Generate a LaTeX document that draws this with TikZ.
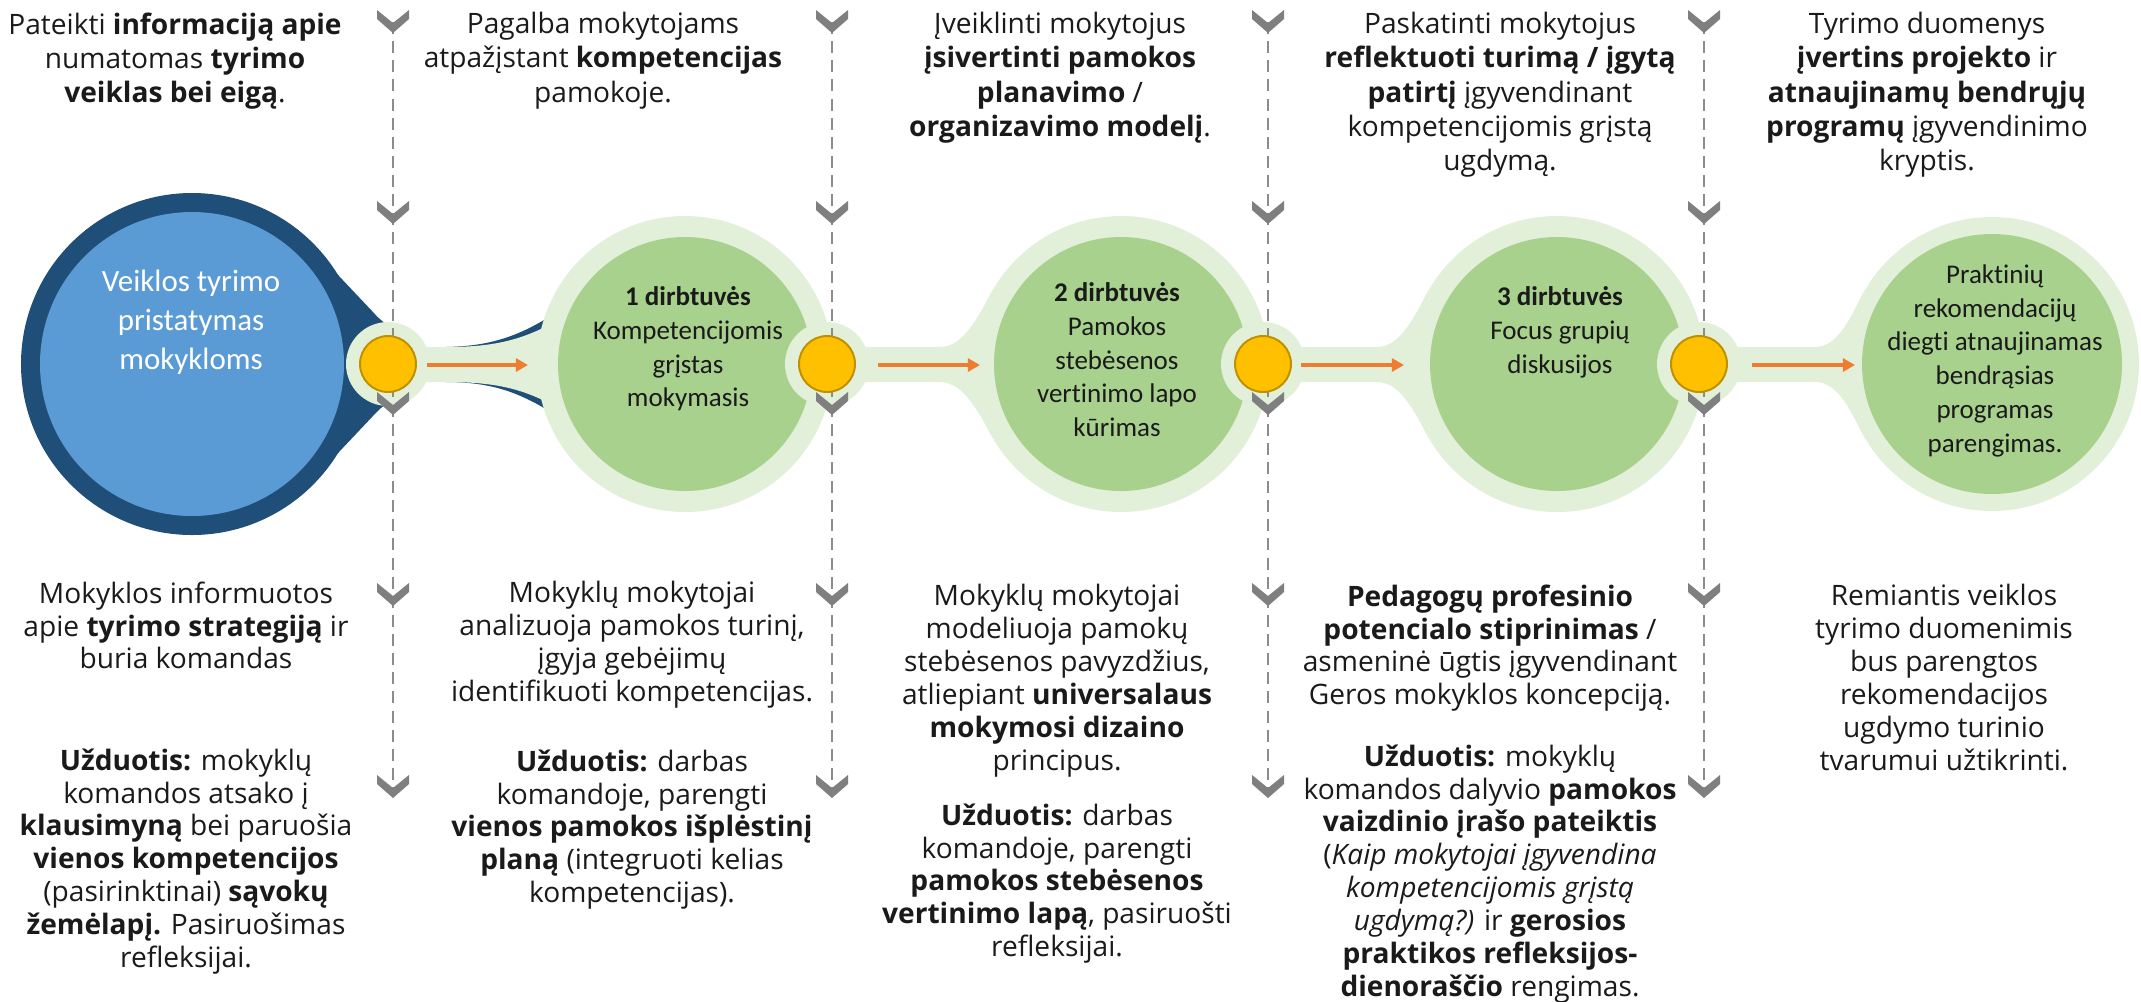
\documentclass[tikz,border=0pt]{standalone}
\usepackage{fontspec}
\setmainfont{Open Sans}
\newfontfamily\calfont{Carlito}[Ligatures=NoCommon]
\usetikzlibrary{arrows.meta}
\definecolor{dkblue}{HTML}{1F4E79}
\definecolor{ltblue}{HTML}{5B9BD5}
\definecolor{ltgreen}{HTML}{E2F0D9}
\definecolor{midgreen}{HTML}{A9D18E}
\definecolor{gold}{HTML}{FFC000}
\definecolor{goldline}{HTML}{BF9000}
\definecolor{arrowor}{HTML}{ED7D31}
\definecolor{chevgray}{HTML}{7F7F7F}
\definecolor{dashgray}{HTML}{8C8C8C}
\definecolor{txt}{HTML}{1A1A1A}
\newcommand{\chevr}[2]{\fill[chevgray] (#1-16,#2) -- (#1,#2+13) -- (#1+16,#2) -- (#1+16,#2+9) -- (#1,#2+23) -- (#1-16,#2+9) -- cycle;}
% xs, xf, cx, R, k1, k2
\newcommand{\neckshape}[6]{\fill[ltgreen] (#1,347) -- (#2,347) .. controls ({#2+#5},347) and ({#3-0.866*#4-0.5*#6},{364-0.5*#4+0.866*#6}) .. ({#3-0.866*#4},{364-0.5*#4}) -- (#3,364) -- ({#3-0.866*#4},{364+0.5*#4}) .. controls ({#3-0.866*#4-0.5*#6},{364+0.5*#4-0.866*#6}) and ({#2+#5},382) .. (#2,382) -- (#1,382) -- cycle;}
\begin{document}
\begin{tikzpicture}[x=0.0125cm, y=-0.0125cm,
  basetxt/.style={align=center, anchor=north, inner sep=0pt, text=txt, execute at begin node=\strut},
  toptxt/.style={basetxt, font=\fontsize{10}{12.1}\selectfont},
  bottxt/.style={basetxt, font=\fontsize{10}{11.7}\selectfont},
  circtxt/.style={basetxt, font=\calfont\fontsize{9.6}{12}\selectfont},
  bluetxt/.style={basetxt, text=white, font=\calfont\fontsize{11}{14}\selectfont},
  dot/.style={circle, fill=gold, draw=goldline, line width=0.7pt, minimum size=19.9pt, inner sep=0pt},
  dashline/.style={draw=dashgray, line width=0.9pt, dash pattern=on 4.3pt off 2.5pt},
  flow/.style={draw=arrowor, line width=1.25pt, -{Triangle[length=4.3pt,width=4.6pt]}}
]
\fill[white] (0,0) rectangle (2141,1001);
\useasboundingbox (0,0) rectangle (2141,1001);

% dark blue teardrop
\fill[dkblue] (192,364) circle (171);
\fill[dkblue] (306,241) -- (372,311) .. controls (382,322) and (388,327) .. (400,328) -- (400,400) .. controls (388,401) and (382,406) .. (372,417) -- (306,487) -- (192,364) -- cycle;
% dark wisps of first neck
\fill[dkblue] (446,347) .. controls (500,346) and (528,331) .. (565,307) -- (600,364) -- (565,421) .. controls (528,397) and (500,382) .. (446,382) -- cycle;

% light green halos and necks
\fill[ltgreen] (685,364) circle (148);
\fill[ltgreen] (1121,364) circle (148);
\fill[ltgreen] (1557,364) circle (148);
\fill[ltgreen] (1992,364) circle (147);
\fill[ltgreen] (388,347) -- (446,347) .. controls (500,347) and (528,338) .. (565,316) -- (600,364) -- (565,412) .. controls (528,390) and (500,382) .. (446,382) -- (388,382) -- cycle;
\neckshape{827}{940}{1121}{148}{25}{25}
\neckshape{1263}{1377}{1557}{148}{25}{25}
\neckshape{1699}{1815}{1992}{147}{25}{25}

% inner circles
\fill[ltblue] (192,364) circle (152);
\fill[midgreen] (685,364) circle (127);
\fill[midgreen] (1121,364) circle (127);
\fill[midgreen] (1557,364) circle (127);
\fill[midgreen] (1992,364) circle (130);

% halos of the dots
\foreach \xx in {388,827,1263,1699} \fill[ltgreen] (\xx,364) circle (42);

% dashed guide lines
\foreach \xx in {393,832,1268,1704} \draw[dashline] (\xx,22) -- (\xx,790);

% dots
\node[dot] (y1) at (388,364) {};
\node[dot] (y2) at (827,364) {};
\node[dot] (y3) at (1263,364) {};
\node[dot] (y4) at (1699,364) {};

% arrows
\coordinate (a1s) at (427,365); \coordinate (a1e) at (528,365);
\coordinate (a2s) at (878,365); \coordinate (a2e) at (980,365);
\coordinate (a3s) at (1301,365); \coordinate (a3e) at (1404,365);
\coordinate (a4s) at (1752,365); \coordinate (a4e) at (1855,365);
\draw[flow] (a1s) -- (a1e);
\draw[flow] (a2s) -- (a2e);
\draw[flow] (a3s) -- (a3e);
\draw[flow] (a4s) -- (a4e);

% chevrons
\foreach \xx in {393,832,1268,1704} {
  \foreach \yy in {10,201,392,583,775} {\chevr{\xx}{\yy}}
}

% circle texts
\node[bluetxt] (c0) at (191,269) {Veiklos tyrimo\\pristatymas\\mokykloms};
\node[circtxt] (c1) at (688,286) {\textbf{1 dirbtuvės}\\Kompetencijomis\\grįstas\\mokymasis};
\node[circtxt] (c2) at (1117,282) {\textbf{2 dirbtuvės}\\Pamokos\\stebėsenos\\vertinimo lapo\\kūrimas};
\node[circtxt] (c3) at (1560,286) {\textbf{3 dirbtuvės}\\Focus grupių\\diskusijos};
\node[circtxt] (c4) at (1995,264) {Praktinių\\rekomendacijų\\diegti atnaujinamas\\bendrąsias\\programas\\parengimas.};

% top texts
\node[toptxt] (t1) at (175,12) {Pateikti \textbf{informaciją apie}\\numatomas \textbf{tyrimo}\\\textbf{veiklas bei eigą}.};
\node[toptxt] (t2) at (603,12) {Pagalba mokytojams\\atpažįstant \textbf{kompetencijas}\\pamokoje.};
\node[toptxt] (t3) at (1060,12) {Įveiklinti mokytojus\\\textbf{įsivertinti pamokos}\\\textbf{planavimo} /\\\textbf{organizavimo modelį}.};
\node[toptxt] (t4) at (1500,12) {Paskatinti mokytojus\\\textbf{reflektuoti turimą / įgytą}\\\textbf{patirtį} įgyvendinant\\kompetencijomis grįstą\\ugdymą.};
\node[toptxt] (t5) at (1927,12) {Tyrimo duomenys\\\textbf{įvertins projekto} ir\\\textbf{atnaujinamų bendrųjų}\\\textbf{programų} įgyvendinimo\\kryptis.};

% bottom texts
\node[bottxt] (b1a) at (186,581) {Mokyklos informuotos\\apie \textbf{tyrimo strategiją} ir\\buria komandas};
\node[bottxt] (b1b) at (186,748) {\textbf{Užduotis:} mokyklų\\komandos atsako į\\\textbf{klausimyną} bei paruošia\\\textbf{vienos kompetencijos}\\(pasirinktinai) \textbf{sąvokų}\\\textbf{žemėlapį.} Pasiruošimas\\refleksijai.};
\node[bottxt] (b2a) at (632,581) {Mokyklų mokytojai\\analizuoja pamokos turinį,\\įgyja gebėjimų\\identifikuoti kompetencijas.};
\node[bottxt] (b2b) at (632,749) {\textbf{Užduotis:} darbas\\komandoje, parengti\\\textbf{vienos pamokos išplėstinį}\\\textbf{planą} (integruoti kelias\\kompetencijas).};
\node[bottxt] (b3a) at (1057,584) {Mokyklų mokytojai\\modeliuoja pamokų\\stebėsenos pavyzdžius,\\atliepiant \textbf{universalaus}\\\textbf{mokymosi dizaino}\\principus.};
\node[bottxt] (b3b) at (1057,803) {\textbf{Užduotis:} darbas\\komandoje, parengti\\\textbf{pamokos stebėsenos}\\\textbf{vertinimo lapą}, pasiruošti\\refleksijai.};
\node[bottxt] (b4a) at (1490,584) {\textbf{Pedagogų profesinio}\\\textbf{potencialo stiprinimas} /\\asmeninė ūgtis įgyvendinant\\Geros mokyklos koncepciją.};
\node[bottxt] (b4b) at (1490,744) {\textbf{Užduotis:} mokyklų\\komandos dalyvio \textbf{pamokos}\\\textbf{vaizdinio įrašo pateiktis}\\(\textit{Kaip mokytojai įgyvendina}\\\textit{kompetencijomis grįstą}\\\textit{ugdymą?)} ir \textbf{gerosios}\\\textbf{praktikos refleksijos-}\\\textbf{dienoraščio} rengimas.};
\node[bottxt] (b5) at (1944,584) {Remiantis veiklos\\tyrimo duomenimis\\bus parengtos\\rekomendacijos\\ugdymo turinio\\tvarumui užtikrinti.};
\end{tikzpicture}
\end{document}
